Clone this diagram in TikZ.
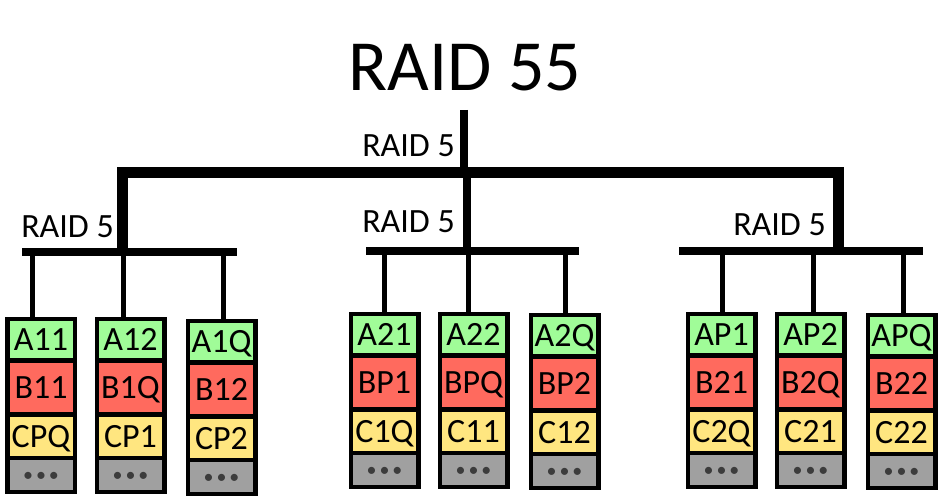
\documentclass[tikz,border=0pt]{standalone}
\usepackage{fontspec}
\setmainfont{Carlito}
\usetikzlibrary{positioning}
\definecolor{cellA}{HTML}{A0FC98}
\definecolor{cellB}{HTML}{FF6A5E}
\definecolor{cellC}{HTML}{FFE680}
\definecolor{cellD}{HTML}{A0A0A0}
\definecolor{dotgray}{HTML}{3C3C3C}
\begin{document}
\begin{tikzpicture}[x=1pt,y=1pt,
  cell/.style={draw=black,line width=4.5pt,minimum width=67.5pt,inner sep=0pt,outer sep=0pt,
    font=\fontsize{34}{34}\selectfont,text height=21.5pt,text depth=0pt},
  cella/.style={cell,fill=cellA,minimum height=41.5pt},
  cellb/.style={cell,fill=cellB,minimum height=54pt},
  cellc/.style={cell,fill=cellC,minimum height=43.5pt},
  celld/.style={cell,fill=cellD,minimum height=34pt,text=dotgray,
    font=\fontsize{20}{20}\selectfont,text height=12pt},
  bus/.style={line width=8pt},
  drop/.style={line width=5pt},
  raid/.style={font=\fontsize{34}{34}\selectfont,inner sep=0pt,anchor=base east}]
\useasboundingbox (0,0) rectangle (946,497);
\newcommand{\dotrow}{\textbullet\kern3pt\textbullet\kern3pt\textbullet}
% title
\node[font=\fontsize{72}{72}\selectfont,inner sep=0pt,anchor=base] (title) at (465,406) {RAID 55};
% top level
\coordinate (stemtop) at (464,387);
\coordinate (stembot) at (464,324);
\draw[line width=8pt] (stemtop) -- (stembot);
\node[raid] (r0) at (455,340) {RAID 5};
\coordinate (t1) at (122,245);
\coordinate (t2) at (122,324);
\coordinate (t3) at (838,324);
\coordinate (t4) at (838,246);
\draw[line width=11pt] (t1) -- (t2) -- (t3) -- (t4);
\coordinate (tm) at (467,324);
\coordinate (bm) at (467,245.5);
\draw[line width=8pt] (tm) -- (bm);
% group 1
\node[raid] (r1) at (114,259) {RAID 5};
\coordinate (g1l) at (22,245);
\coordinate (g1r) at (237,245);
\draw[bus] (g1l) -- (g1r);
\node[cella,anchor=north] (a11) at (41,177.75) {A11};
\node[cellb,below=0pt of a11] (b11) {B11};
\node[cellc,below=0pt of b11] (cpq) {CPQ};
\node[celld,below=0pt of cpq] (d1) {\dotrow};
\node[cella,anchor=north] (a12) at (130.5,177.75) {A12};
\node[cellb,below=0pt of a12] (b1q) {B1Q};
\node[cellc,below=0pt of b1q] (cp1) {CP1};
\node[celld,below=0pt of cp1] (d2) {\dotrow};
\node[cella,anchor=north] (a1q) at (221.5,175.75) {A1Q};
\node[cellb,below=0pt of a1q] (b12) {B12};
\node[cellc,below=0pt of b12] (cp2) {CP2};
\node[celld,below=0pt of cp2] (d3) {\dotrow};
\coordinate (p1) at (32,245);
\coordinate (p2) at (123,245);
\coordinate (p3) at (223,245);
\draw[drop] (p1) -- (p1 |- a11.north);
\draw[drop] (p2) -- (p2 |- a12.north);
\draw[drop] (p3) -- (p3 |- a1q.north);
% group 2
\node[raid] (r2) at (455,264) {RAID 5};
\coordinate (g2l) at (366,245.5);
\coordinate (g2r) at (579,245.5);
\draw[bus] (g2l) -- (g2r);
\node[cella,anchor=north] (a21) at (384.5,182.75) {A21};
\node[cellb,below=0pt of a21] (bp1) {BP1};
\node[cellc,below=0pt of bp1] (c1q) {C1Q};
\node[celld,below=0pt of c1q] (d4) {\dotrow};
\node[cella,anchor=north] (a22) at (473.5,182.75) {A22};
\node[cellb,below=0pt of a22] (bpq) {BPQ};
\node[cellc,below=0pt of bpq] (c11) {C11};
\node[celld,below=0pt of c11] (d5) {\dotrow};
\node[cella,anchor=north] (a2q) at (564.5,181.75) {A2Q};
\node[cellb,below=0pt of a2q] (bp2) {BP2};
\node[cellc,below=0pt of bp2] (c12) {C12};
\node[celld,below=0pt of c12] (d6) {\dotrow};
\coordinate (p4) at (384,245.5);
\coordinate (p5) at (468,245.5);
\coordinate (p6) at (565,245.5);
\draw[drop] (p4) -- (p4 |- a21.north);
\draw[drop] (p5) -- (p5 |- a22.north);
\draw[drop] (p6) -- (p6 |- a2q.north);
% group 3
\node[raid] (r3) at (826,261) {RAID 5};
\coordinate (g3l) at (679,246);
\coordinate (g3r) at (923,246);
\draw[bus] (g3l) -- (g3r);
\node[cella,anchor=north] (ap1) at (721.5,182.75) {AP1};
\node[cellb,below=0pt of ap1] (b21) {B21};
\node[cellc,below=0pt of b21] (c2q) {C2Q};
\node[celld,below=0pt of c2q] (d7) {\dotrow};
\node[cella,anchor=north] (ap2) at (810.5,182.75) {AP2};
\node[cellb,below=0pt of ap2] (b2q) {B2Q};
\node[cellc,below=0pt of b2q] (c21) {C21};
\node[celld,below=0pt of c21] (d8) {\dotrow};
\node[cella,anchor=north] (apq) at (901.5,181.75) {APQ};
\node[cellb,below=0pt of apq] (b22) {B22};
\node[cellc,below=0pt of b22] (c22) {C22};
\node[celld,below=0pt of c22] (d9) {\dotrow};
\coordinate (p7) at (722,246);
\coordinate (p8) at (813,246);
\coordinate (p9) at (903,246);
\draw[drop] (p7) -- (p7 |- ap1.north);
\draw[drop] (p8) -- (p8 |- ap2.north);
\draw[drop] (p9) -- (p9 |- apq.north);
\end{tikzpicture}
\end{document}
